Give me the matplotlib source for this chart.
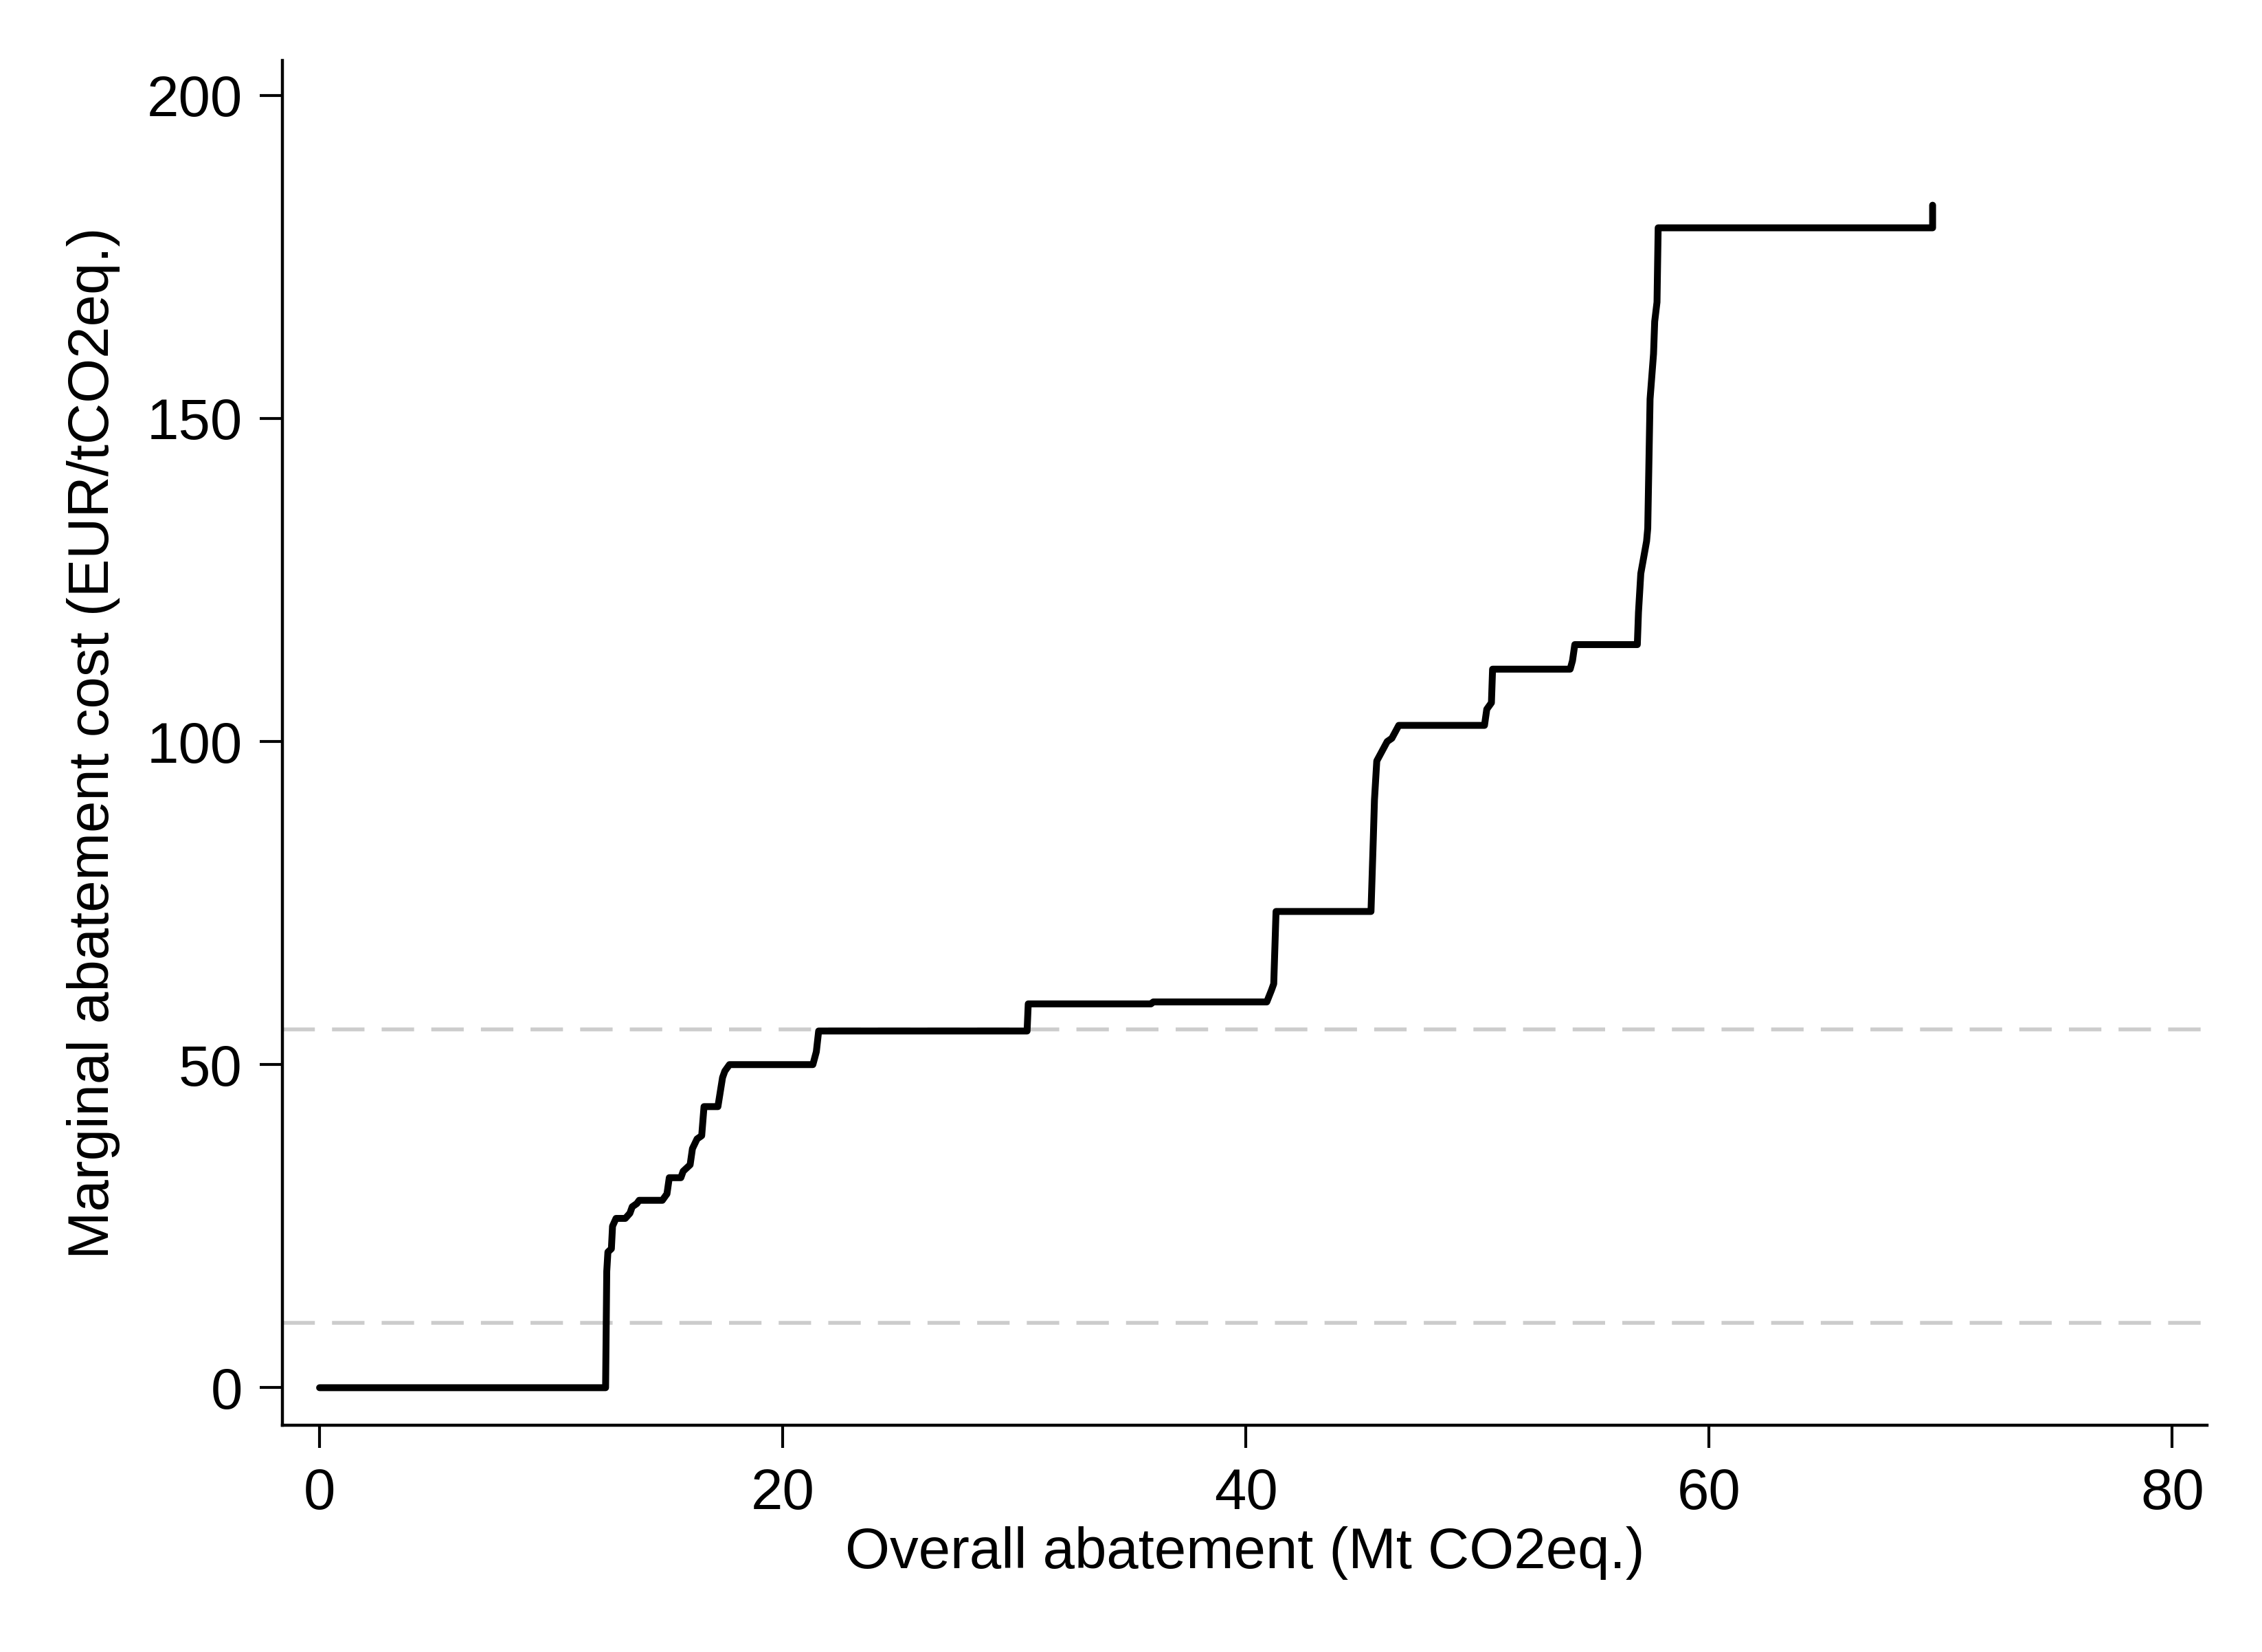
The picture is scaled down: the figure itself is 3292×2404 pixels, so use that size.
import numpy as np
import matplotlib
matplotlib.use("Agg")
import matplotlib.pyplot as plt

# abatement curve vertices (Mt CO2eq., EUR/tCO2eq.)
abatement = [0, 12.35, 12.4, 12.45, 12.6, 12.65, 12.8, 13.2, 13.4, 13.5, 13.7, 13.8,
             14.8, 15.0, 15.1, 15.6, 15.7, 16.0, 16.1, 16.3, 16.5, 16.6, 17.2, 17.4,
             17.5, 17.7, 21.3, 21.45, 21.55, 30.55, 30.6, 35.9, 36.0, 40.9, 41.1,
             41.2, 41.3, 45.4, 45.5, 45.55, 45.65, 45.8, 46.1, 46.3, 46.6, 50.3,
             50.4, 50.6, 50.65, 54.0, 54.1, 54.2, 56.9, 56.95, 57.05, 57.3, 57.35,
             57.45, 57.6, 57.65, 57.75, 57.8, 69.65, 69.65]
cost = [0, 0, 18, 21, 21.5, 25, 26.2, 26.2, 27, 28, 28.5, 29,
        29, 30, 32.5, 32.5, 33.5, 34.5, 37, 38.5, 39, 43.5, 43.5, 48,
        49, 50, 50, 52, 55.2, 55.2, 59.4, 59.4, 59.7, 59.7, 61.5,
        62.5, 73.7, 73.7, 85, 91, 97, 98, 100, 100.5, 102.5, 102.5,
        105, 106, 111.2, 111.2, 112.5, 115, 115, 120, 126, 131, 133,
        153, 160, 165, 168, 179.5, 179.5, 183]

ref_prices = [10, 55.4]
xticks = [0, 20, 40, 60, 80]
yticks = [0, 50, 100, 150, 200]

plt.rcParams['font.family'] = ['Liberation Sans', 'DejaVu Sans']

fig = plt.figure(figsize=(16.46, 12.02), dpi=200)
ax = fig.add_axes([0.1249, 0.1373, 0.8508, 0.8261])

for p in ref_prices:
    ax.axhline(p, color='#cccccc', lw=2, dashes=(8.5, 4.5), zorder=1)

ax.plot(abatement, cost, color='black', lw=3.6, solid_joinstyle='round',
        solid_capstyle='round', zorder=2)

ax.set_xlim(-1.6, 81.5)
ax.set_ylim(-5.8, 205.4)
ax.set_xticks(xticks)
ax.set_yticks(yticks)
ax.tick_params(labelsize=30, length=12, width=1.5, pad=10)
ax.tick_params(axis='y', pad=9)
for s in ['top', 'right']:
    ax.spines[s].set_visible(False)
for s in ['left', 'bottom']:
    ax.spines[s].set_linewidth(1.6)

ax.set_xlabel("Overall abatement (Mt CO2eq.)", fontsize=30, labelpad=3)
ax.set_ylabel("Marginal abatement cost (EUR/tCO2eq.)", fontsize=30, labelpad=14)

fig.savefig("out.png", dpi=200, facecolor='white')
